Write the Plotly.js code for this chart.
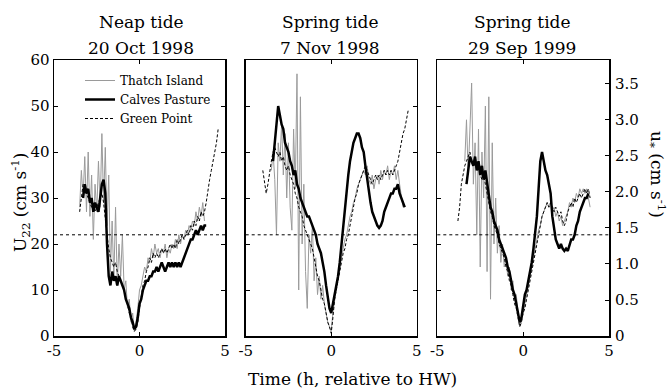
<!DOCTYPE html>
<html>
<head>
<meta charset="utf-8">
<script src="https://cdn.plot.ly/plotly-3.0.1.min.js"></script>
<style>html,body{margin:0;padding:0;background:#fff;}#chart{width:672px;height:391px;}</style>
</head>
<body>
<div id="chart"></div>
<script>
// ---------- data (time in h relative to HW, sampled every STEP h) ----------
const STEP = 0.1;
const seriesNames = ["Thatch Island", "Calves Pasture", "Green Point"];
const panelTitles = ["Neap tide", "Spring tide", "Spring tide"];
const panelDates = ["20 Oct 1998", "7 Nov 1998", "29 Sep 1999"];
const thresholdU22 = 22;
const uStarTickVals = [0, 0.5, 1.0, 1.5, 2.0, 2.5, 3.0, 3.5];
const uStarTickText = ["0", "0.5", "1.0", "1.5", "2.0", "2.5", "3.0", "3.5"];
const uStarMax = 3.833;
const xTickVals = [-5, 0, 5];
const xTickText = ["-5", "0", "5"];

// Panel 1 — Neap tide 20 Oct 1998
const p1ThatchStart = -3.5;
const p1Thatch = [28,36,30,39,27,40,26,35,21,33,27,38,28,44,29,41,24,35,14,25,12,28,11,20,13,22,10,12,6,8,3,5,1,3,6,10,11,13,15,14,17,16,19,17,20,18,19,17,19,18,20,17,19,18,20,19,21,19,22,20,22,21,23,22,24,23,25,24,27,25,28,26,29,25];
const p1CalvesStart = -3.3;
const p1Calves = [30,33,31,32,29,30,27,29,28,27,30,33,34,31,20,13,11,14,12,13,11,13,12,11,10,8,7,6,4,3,1.5,2,4,7,8,10,11,12,12,13,13,14,14,15,14,15,16,15,14,15,16,15,16,15,16,15,16,15,16,17,18,19,20,21,21,22,23,22,23,24,23,24,24];
const p1GreenStart = -3.5;
const p1Green = [27,30,33,32,31,30,29,28,28,27,28,29,30,31,29,25,22,19,17,16,15,16,14,13,12,11,10,8,7,5,4,2,1,1.5,3,6,9,11,12,14,15,17,16,18,17,18,17,18,19,18,19,18,19,20,19,20,19,21,20,21,22,21,22,23,22,24,23,25,24,26,25,27,26,27,29,32,34,36,38,40,42,45];

// Panel 2 — Spring tide 7 Nov 1998
const p2ThatchStart = -3.5;
const p2Thatch = [36,40,34,22,42,38,46,35,44,30,42,28,23,45,32,57,10,52,20,33,14,6,22,18,24,12,17,9,13,8,11,7,5,3,2,1,5,8,11,13,15,17,19,21,22,24,26,27,29,30,32,33,34,35,36,35,37,34,33,35,32,34,35,33,36,34,36,35,37,34,36,35,37,34,36,33,30,28];
const p2CalvesStart = -3.4;
const p2Calves = [38,42,47,50,48,46,45,42,41,40,38,37,35,36,33,32,30,29,28,27,26,26,25,24,23,22,20,19,18,16,14,11,8,6,5,7,9,11,13,16,20,24,28,31,35,38,40,42,43,44,44,43,41,40,37,34,31,29,27,26,25,24,23.5,24,25,27,28,29,30,31,31,32,32,33,31,30,29,28];
const p2GreenStart = -4.0;
const p2Green = [36,33,31,33,36,38,40,41,40,39,40,38,39,37,36,37,35,34,33,31,30,28,27,26,24,23,22,21,20,19,17,15,13,12,10,8,7,5,3,2,0.6,4,8,10,12,14,16,18,19,21,22,24,26,28,30,31,33,34,35,36,37,36,35,34,33,34,35,34,35,34,35,36,35,36,35,36,35,36,37,38,40,42,44,45,47,49];

// Panel 3 — Spring tide 29 Sep 1999
const p3ThatchStart = -3.4;
const p3Thatch = [38,47,35,44,55,33,42,22,45,15,40,30,50,14,52,8,42,20,30,18,24,16,20,15,17,13,15,10,12,8,9,5,2,3,5,7,9,11,13,15,17,19,21,23,24,26,27,28,29,28,29,27,28,26,27,25,26,24,25,26,27,29,28,30,29,31,30,32,31,32,31,32,30,28];
const p3CalvesStart = -3.3;
const p3Calves = [33,36,39,38,37,39,36,38,35,37,34,36,33,31,28,27,25,24,23,21,20,19,18,17,15,14,12,10,9,7,5,3,4,7,9,10,12,14,16,19,22,26,32,38,40,38,36,35,33,31,26,23,21,20,19,20,19,18.5,19,18.5,20,21,21,22,24,25,27,28,29,30,30,31];
const p3GreenStart = -3.8;
const p3Green = [25,28,33,35,37,38,39,40,38,37,38,36,37,35,34,35,33,31,29,27,26,24,23,22,20,19,18,17,15,14,12,11,9,7,6,4,2,3,5,6,8,10,12,14,16,18,20,22,24,26,27,28,29,28,29,28,27,28,27,26,27,25,24,25,27,28,29,28,30,29,30,31,30,31,32,31,32,30];

// ---------- styles ----------
const FONT = "DejaVu Serif, Liberation Serif, serif";
const styles = {
  "Thatch Island": {color: "#9a9a9a", width: 1, dash: "solid"},
  "Calves Pasture": {color: "#000000", width: 2.5, dash: "solid"},
  "Green Point": {color: "#000000", width: 1, dash: "3px,2px"}
};

const panels = [
  {ax: ["x", "y"], data: [[p1ThatchStart, p1Thatch], [p1CalvesStart, p1Calves], [p1GreenStart, p1Green]]},
  {ax: ["x2", "y2"], data: [[p2ThatchStart, p2Thatch], [p2CalvesStart, p2Calves], [p2GreenStart, p2Green]]},
  {ax: ["x3", "y3"], data: [[p3ThatchStart, p3Thatch], [p3CalvesStart, p3Calves], [p3GreenStart, p3Green]]}
];

const traces = [];
panels.forEach((p, pi) => {
  p.data.forEach((d, si) => {
    const nm = seriesNames[si];
    traces.push({
      type: "scatter", mode: "lines", name: nm,
      x0: d[0], dx: STEP, y: d[1],
      xaxis: p.ax[0], yaxis: p.ax[1],
      line: styles[nm],
      showlegend: pi === 0,
      legendgroup: nm,
      legendrank: si,
      hoverinfo: "skip"
    });
  });
});

const L = 54, R = 63, T = 60, B = 55;
const W = 672, H = 391;
const PW = W - L - R, PH = H - T - B;
const px2x = px => (px - L) / PW;
const py2y = py => (H - B - py) / PH;

const xBase = {
  range: [-5, 5], tickvals: xTickVals, ticktext: xTickText,
  ticks: "inside", ticklen: 4, tickwidth: 1, tickcolor: "#000",
  showline: true, linecolor: "#000", linewidth: 1.5, mirror: "ticks",
  showgrid: false, zeroline: false, fixedrange: true,
  tickfont: {family: FONT, size: 15, color: "#000"}
};
const yBase = {
  range: [0, 60], dtick: 10, tick0: 0,
  ticks: "inside", ticklen: 4, tickwidth: 1, tickcolor: "#000",
  showline: true, linecolor: "#000", linewidth: 1.5, mirror: "ticks",
  showgrid: false, zeroline: false, fixedrange: true,
  tickfont: {family: FONT, size: 15, color: "#000"}
};

const domains = [[0, px2x(225)], [px2x(245.7), px2x(416.7)], [px2x(437.3), 1]];

const shapes = [["x", "y"], ["x2", "y2"], ["x3", "y3"]].map(a => ({
  type: "line", xref: a[0] + " domain", yref: a[1],
  x0: 0, x1: 1, y0: thresholdU22, y1: thresholdU22,
  line: {color: "#000", width: 1, dash: "dot"}
}));

const titleCenters = [141, 330, 522];
const annotations = [];
titleCenters.forEach((cx, i) => {
  annotations.push({xref: "paper", yref: "paper", x: px2x(cx), y: py2y(22), text: panelTitles[i],
    showarrow: false, xanchor: "center", yanchor: "middle", font: {family: FONT, size: 17, color: "#000"}});
  annotations.push({xref: "paper", yref: "paper", x: px2x(cx), y: py2y(48), text: panelDates[i],
    showarrow: false, xanchor: "center", yanchor: "middle", font: {family: FONT, size: 17, color: "#000"}});
});
annotations.push({xref: "paper", yref: "paper", x: px2x(20), y: py2y(202), textangle: -90,
  text: "U<sub>22</sub> (cm s<sup>-1</sup>)", showarrow: false, xanchor: "center", yanchor: "middle",
  font: {family: FONT, size: 17, color: "#000"}});
annotations.push({xref: "paper", yref: "paper", x: px2x(657), y: py2y(174), textangle: 90,
  text: "u<sub>*</sub> (cm s<sup>-1</sup>)", showarrow: false, xanchor: "center", yanchor: "middle",
  font: {family: FONT, size: 17, color: "#000"}});
annotations.push({xref: "paper", yref: "paper", x: px2x(352), y: py2y(379),
  text: "Time (h, relative to HW)", showarrow: false, xanchor: "center", yanchor: "middle",
  font: {family: FONT, size: 17, color: "#000"}});

const layout = {
  width: W, height: H,
  margin: {l: L, r: R, t: T, b: B, pad: 0},
  paper_bgcolor: "#fff", plot_bgcolor: "#fff",
  font: {family: FONT, color: "#000"},
  showlegend: true,
  legend: {x: px2x(80), y: py2y(66), xanchor: "left", yanchor: "top",
    bgcolor: "rgba(0,0,0,0)", borderwidth: 0, tracegroupgap: 0,
    font: {family: FONT, size: 12, color: "#000"}, itemwidth: 30},
  xaxis: Object.assign({}, xBase, {domain: domains[0], anchor: "y"}),
  xaxis2: Object.assign({}, xBase, {domain: domains[1], anchor: "y2"}),
  xaxis3: Object.assign({}, xBase, {domain: domains[2], anchor: "y3"}),
  yaxis: Object.assign({}, yBase, {anchor: "x"}),
  yaxis2: Object.assign({}, yBase, {anchor: "x2", showticklabels: false}),
  yaxis3: Object.assign({}, yBase, {anchor: "x3", showticklabels: false, mirror: true}),
  yaxis4: Object.assign({}, yBase, {anchor: "x3", overlaying: "y3", side: "right",
    range: [0, uStarMax], tickvals: uStarTickVals, ticktext: uStarTickText, showline: false, mirror: false,
    ticklabelstandoff: 5}),
  shapes: shapes,
  annotations: annotations
};
// empty trace that switches on the u* axis
traces.push({type: "scatter", mode: "lines", x: [], y: [], xaxis: "x3", yaxis: "y4", showlegend: false, hoverinfo: "skip"});

Plotly.newPlot("chart", traces, layout, {displayModeBar: false, staticPlot: true});
</script>
</body>
</html>
